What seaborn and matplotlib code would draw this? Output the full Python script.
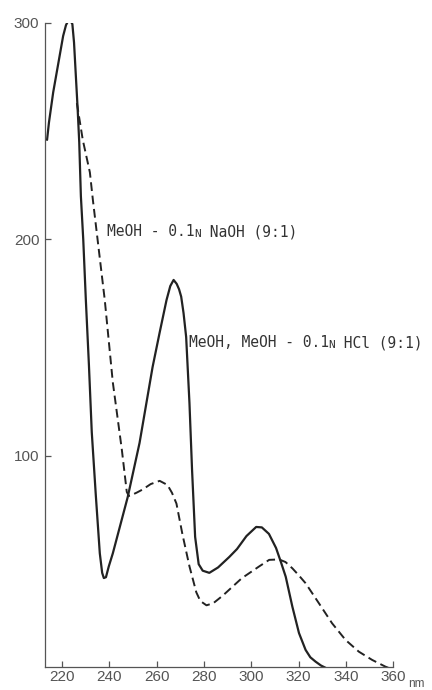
import pandas as pd
import matplotlib
matplotlib.use("Agg")
import matplotlib.pyplot as plt
import seaborn as sns

# UV spectrum (wavelength in nm, absorbance units as on the axis)
neutral_nm = [213.7, 214.5, 216.3, 218.4, 220.5, 221.7, 222.4, 223.1, 223.8, 224.4,
              225.1, 225.9, 226.6, 227.3, 228.0, 229.0, 230.1, 231.4, 232.6, 234.3,
              236.0, 237.0, 237.7, 238.6, 239.8, 241.5, 247.8, 252.8, 258.3, 261.3,
              264.2, 265.8, 267.2, 268.5, 269.5, 270.4, 271.4, 272.5, 273.9, 275.0,
              276.3, 277.8, 279.5, 282.3, 286.0, 290.7, 294.0, 298.0, 302.1, 304.5,
              307.5, 310.5, 312.5, 314.6, 317.4, 320.2, 323.0, 325.0, 327.2, 329.5,
              331.5]
neutral_val = [246, 254, 268, 281, 294, 299, 300.5, 301, 300.6, 299.5,
               291, 275, 261, 245, 220, 200, 172, 142, 111, 82,
               55, 46, 43.6, 44, 49, 55, 81, 106, 141, 157,
               172, 178.5, 181.3, 179.5, 177, 173.6, 166, 155, 124.5, 93.5,
               62.6, 50, 47, 46, 48.5, 53.3, 57, 63, 67.2, 67,
               64, 57.5, 51.2, 44.2, 30.4, 18.2, 10.4, 7, 5, 3.2,
               2.1]

naoh_nm = [226.3, 228.8, 231.8, 233.1, 238.1, 241.5, 245.3, 247.4, 248.3, 249.5,
           251.5, 254.1, 257.5, 261.3, 264.6, 266.5, 268.4, 270.9, 273.9, 276.8,
           278.5, 281.1, 284.0, 288.0, 292.0, 296.0, 303.4, 307.6, 311.8, 314.5,
           317.4, 320.0, 323.0, 328.6, 334.2, 339.9, 345.5, 351.1, 356.7, 358.1]
naoh_val = [263, 246, 231, 218, 172, 134, 103, 83.4, 81.5, 82,
            83, 84.5, 87, 88.5, 86.6, 83, 78, 64, 49, 37,
            33, 31, 32, 35.5, 39.5, 43.5, 49, 52, 52.2, 51,
            48.1, 45, 41.2, 32, 22.7, 15, 9.6, 5.8, 2.7, 2.1]

x_ticks = [220, 240, 260, 280, 300, 320, 340, 360]
y_ticks = [100, 200, 300]

neutral = pd.DataFrame({"nm": neutral_nm, "A": neutral_val})
naoh = pd.DataFrame({"nm": naoh_nm, "A": naoh_val})

sns.set_style("ticks")
plt.rcParams["font.family"] = ["Liberation Sans", "DejaVu Sans"]

fig = plt.figure(figsize=(4.32, 6.9), dpi=100)
ax = fig.add_axes([0.104, 0.0333, 0.806, 0.9334])

ink = "#222222"
sns.lineplot(data=neutral, x="nm", y="A", ax=ax, color=ink, lw=1.6,
             sort=False, estimator=None)
sns.lineplot(data=naoh, x="nm", y="A", ax=ax, color=ink, lw=1.4,
             linestyle=(0, (4.5, 2.4)), sort=False, estimator=None)

ax.set_xlim(212.8, 360)
ax.set_ylim(2.5, 300)
ax.set_xticks(x_ticks)
ax.set_yticks(y_ticks)
ax.set_xlabel("")
ax.set_ylabel("")
sns.despine(ax=ax)
for side in ["left", "bottom"]:
    ax.spines[side].set_color("#555555")
    ax.spines[side].set_linewidth(0.9)
ax.tick_params(direction="in", length=4.5, width=0.9, color="#555555",
               labelsize=11, labelcolor="#555555")
ax.tick_params(axis="x", pad=2)
ax.tick_params(axis="y", pad=4)

# curve labels, with the small-cap N of the normality
mono = dict(family="DejaVu Sans Mono", color="#333333")
t1 = ax.text(238.9, 203.5, "MeOH - 0.1", fontsize=10.5, va="center", **mono)
t2 = ax.annotate("N", xy=(1, 0), xycoords=t1, va="bottom", fontsize=8, **mono)
ax.annotate(" NaOH (9:1)", xy=(1, 0), xycoords=t2, va="bottom", fontsize=10.5, **mono)

h1 = ax.text(273.5, 152.2, "MeOH, MeOH - 0.1", fontsize=10.5, va="center", **mono)
h2 = ax.annotate("N", xy=(1, 0), xycoords=h1, va="bottom", fontsize=8, **mono)
ax.annotate(" HCl (9:1)", xy=(1, 0), xycoords=h2, va="bottom", fontsize=10.5, **mono)

ax.annotate("nm", xy=(360, 0), xycoords=("data", "axes fraction"),
            xytext=(11, -12), textcoords="offset points", va="center",
            fontsize=8.5, color="#555555")

fig.savefig("out.png", dpi=100)
